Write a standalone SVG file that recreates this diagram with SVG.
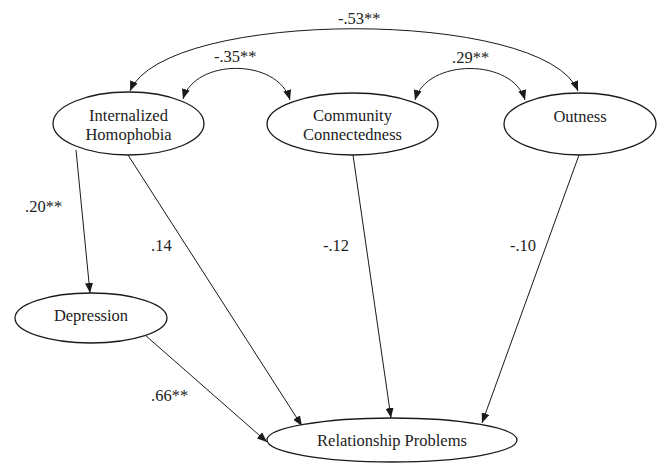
<svg xmlns="http://www.w3.org/2000/svg" width="659" height="464" viewBox="0 0 659 464">
<style>
.node ellipse{fill:#fff;stroke:#1a1a1a;stroke-width:1.3}
text{font-family:"Liberation Serif","Times New Roman",serif;font-size:16.5px;fill:#222}
.lbl{font-size:16.5px}
.nt{text-anchor:middle}
#connectors path,#connectors line{fill:none;stroke:#1a1a1a;stroke-width:1}
</style>
<defs>
<marker id="ah" markerUnits="userSpaceOnUse" markerWidth="10" markerHeight="8" refX="10" refY="4" orient="auto-start-reverse" viewBox="0 0 10 8">
<path d="M0,0 L10,4 L0,8 z" fill="#1a1a1a"/>
</marker>
</defs>
<rect width="659" height="464" fill="#fff"/>
<g id="connectors">
<path d="M130,91 C165,8 545,8 578,91" marker-start="url(#ah)" marker-end="url(#ah)"/>
<path d="M183,99 C195,58 278,58 290,100" marker-start="url(#ah)" marker-end="url(#ah)"/>
<path d="M415,100 C427,58 513,58 525,100" marker-start="url(#ah)" marker-end="url(#ah)"/>
<line x1="76" y1="150" x2="90" y2="293" marker-end="url(#ah)"/>
<line x1="128" y1="155" x2="302" y2="426" marker-end="url(#ah)"/>
<line x1="145" y1="335" x2="267" y2="442" marker-end="url(#ah)"/>
<line x1="353" y1="155" x2="391" y2="418" marker-end="url(#ah)"/>
<line x1="579" y1="155" x2="482" y2="423" marker-end="url(#ah)"/>
</g>
<g id="labels">
<text class="lbl" x="338" y="24">-.53**</text>
<text class="lbl" x="214" y="62">-.35**</text>
<text class="lbl" x="452" y="63">.29**</text>
<text class="lbl" x="25" y="212">.20**</text>
<text class="lbl" x="151" y="251">.14</text>
<text class="lbl" x="323" y="251">-.12</text>
<text class="lbl" x="510" y="251">-.10</text>
<text class="lbl" x="151" y="401">.66**</text>
</g>
<g id="ih" class="node">
<ellipse cx="128.5" cy="123.5" rx="75.5" ry="31.5"/>
<text class="nt" x="128.5" y="121">Internalized</text>
<text class="nt" x="128.5" y="140">Homophobia</text>
</g>
<g id="cc" class="node">
<ellipse cx="352.5" cy="124" rx="85.5" ry="31"/>
<text class="nt" x="352.5" y="121">Community</text>
<text class="nt" x="352.5" y="140">Connectedness</text>
</g>
<g id="out" class="node">
<ellipse cx="580" cy="124" rx="76" ry="31"/>
<text class="nt" x="580" y="122">Outness</text>
</g>
<g id="dep" class="node">
<ellipse cx="91" cy="318" rx="76" ry="25"/>
<text class="nt" x="91" y="321">Depression</text>
</g>
<g id="rp" class="node">
<ellipse cx="392" cy="440" rx="125" ry="22"/>
<text class="nt" x="392" y="446">Relationship Problems</text>
</g>
</svg>
